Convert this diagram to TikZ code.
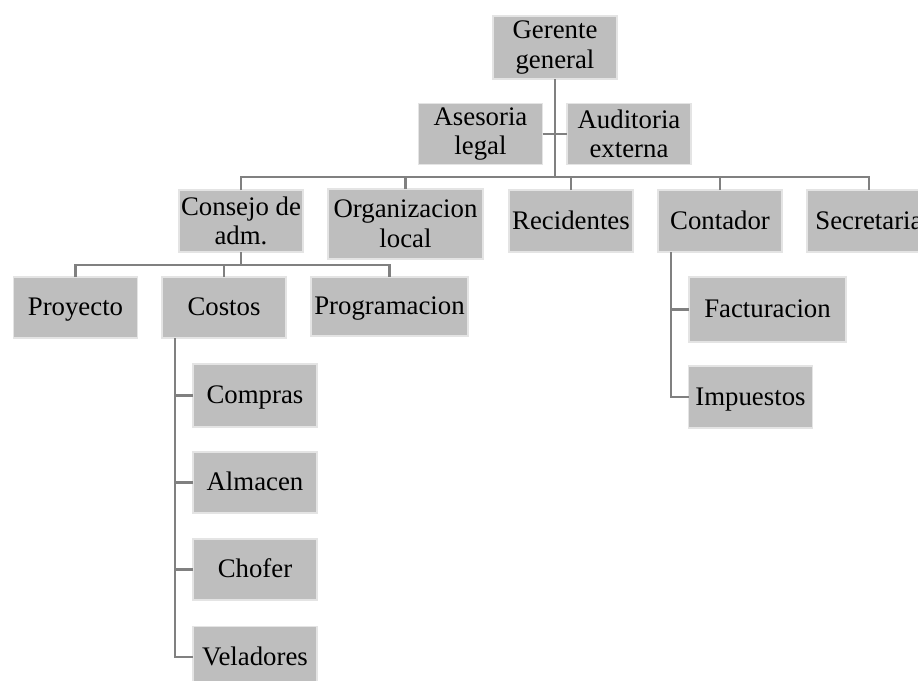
\documentclass[tikz,border=0pt]{standalone}
\usepackage{fontspec}
\setmainfont{Liberation Serif}
\usepackage{tikz}

\definecolor{boxfill}{RGB}{190,190,190}
\definecolor{boxedge}{RGB}{228,228,228}
\definecolor{linkgray}{RGB}{128,128,128}

\begin{document}
\begin{tikzpicture}[x=0.5pt,y=-0.5pt,
	box/.style={fill=boxfill,draw=boxedge,line width=0.8pt,outer sep=0pt,inner sep=0pt,
		align=center,font=\fontsize{13.4pt}{14.8pt}\selectfont,
		minimum width=62pt,minimum height=31pt},
	one/.style={box,text height=8pt,text depth=0pt},
	link/.style={draw=linkgray,line width=1.4pt}]
	%\draw[help lines, thick] (0,0) grid[step=50] (918,681);
	\useasboundingbox (0,0) rectangle (918,681);
	\clip (0,0) rectangle (918,681);
	\node[box,minimum height=31.5pt] (gerente) at (555,47.5) {Gerente\\general};
	\node[box,minimum height=30.5pt] (asesoria) at (480.5,134) {Asesoria\\legal};
	\node[box,minimum height=30.5pt] (auditoria) at (629,134) {Auditoria\\externa};
	\node[box] (consejo) at (241,221) {Consejo de\\adm.};
	\node[box,minimum width=77.5pt,minimum height=35pt] (organizacion) at (405.5,224) {Organizacion\\local};
	\node[one] (recidentes) at (571,221) {Recidentes};
	\node[one] (contador) at (720,221) {Contador};
	\node[one] (secretaria) at (869,221) {Secretaria};
	\node[one,minimum height=30.5pt] (proyecto) at (75.5,307.5) {Proyecto};
	\node[one,minimum height=30.5pt] (costos) at (224,307.5) {Costos};
	\node[one,minimum width=78.5pt,minimum height=29.5pt] (programacion) at (389.5,306.5) {Programacion};
	\node[one,minimum height=31.5pt] (compras) at (255,395.5) {Compras};
	\node[one,minimum height=30.5pt] (almacen) at (255,482.5) {Almacen};
	\node[one,minimum height=30.5pt] (chofer) at (255,569.5) {Chofer};
	\node[one,minimum height=30.5pt] (veladores) at (255,657) {Veladores};
	\node[one,minimum width=78.5pt,minimum height=32.5pt] (facturacion) at (767.5,309.5) {Facturacion};
	\node[one] (impuestos) at (750.5,397) {Impuestos};
	\coordinate (bus) at (555,177);
	\coordinate (subbus) at (242,265);
	\coordinate (costospine) at (175,338);
	\coordinate (contspine) at (671,252);
	\draw[link] (gerente.south) -- (gerente.south |- bus);
	\draw[link] (asesoria.east) -- (auditoria.west);
	\draw[link] (consejo.north) |- (secretaria.north |- bus) -- (secretaria.north);
	\foreach \n in {organizacion,recidentes,contador}
		\draw[link] (\n.north) -- (\n.north |- bus);
	\draw[link] (consejo.south) -- (consejo.south |- subbus);
	\draw[link] (proyecto.north) |- (programacion.north |- subbus) -- (programacion.north);
	\draw[link] (costos.north) -- (costos.north |- subbus);
	\draw[link] (costospine) |- (veladores.west);
	\foreach \n in {compras,almacen,chofer}
		\draw[link] (\n.west) -- (\n.west -| costospine);
	\draw[link] (contspine) |- (impuestos.west);
	\draw[link] (facturacion.west) -- (facturacion.west -| contspine);
\end{tikzpicture}
\end{document}
